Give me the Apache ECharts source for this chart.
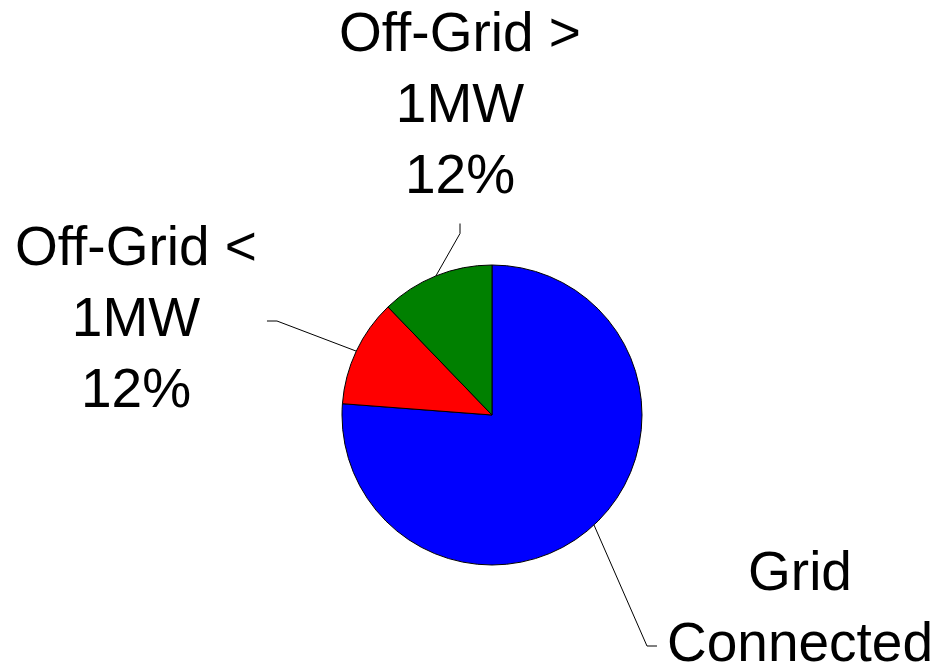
<!DOCTYPE html>
<html>
<head>
<meta charset="utf-8">
<title>Grid share</title>
<script src="https://cdn.jsdelivr.net/npm/echarts@6/dist/echarts.min.js"></script>
<style>
  html, body { margin: 0; padding: 0; background: #fff; }
  #chart { width: 934px; height: 669px; }
</style>
</head>
<body>
<div id="chart"></div>
<script>
// data
var categories = ['Grid\nConnected', 'Off-Grid <\n1MW', 'Off-Grid >\n1MW'];
var shares = [76.2, 11.6, 12.2];

// styling
var sliceColors = ['#0000ff', '#ff0000', '#008000'];
var labelPos = [[800, 646], [136, 321], [460, 107]];

var pieData = [];
for (var i = 0; i < categories.length; i++) {
	pieData.push({
		name: categories[i],
		value: shares[i],
		itemStyle: { color: sliceColors[i] }
	});
}

var option = {
	animation: false,
	backgroundColor: '#fff',
	series: [{
		type: 'pie',
		center: [492, 415],
		radius: 150,
		startAngle: 90,
		clockwise: true,
		percentPrecision: 0,
		avoidLabelOverlap: false,
		data: pieData,
		itemStyle: {
			borderColor: '#000',
			borderWidth: 1
		},
		label: {
			show: true,
			position: 'outside',
			formatter: '{b}\n{d}%',
			fontFamily: 'Liberation Sans, Arial, sans-serif',
			fontSize: 55,
			lineHeight: 71,
			color: '#000',
			padding: 10,
			backgroundColor: 'rgba(255,255,255,0)'
		},
		labelLine: {
			show: true,
			length: 20,
			length2: 10,
			lineStyle: { color: '#000', width: 1 }
		},
		labelLayout: function (params) {
			var p = labelPos[params.dataIndex];
			return {
				x: p[0],
				y: p[1],
				align: 'center',
				verticalAlign: 'middle'
			};
		}
	}]
};

var myChart = echarts.init(document.getElementById('chart'));
myChart.setOption(option);
</script>
</body>
</html>
